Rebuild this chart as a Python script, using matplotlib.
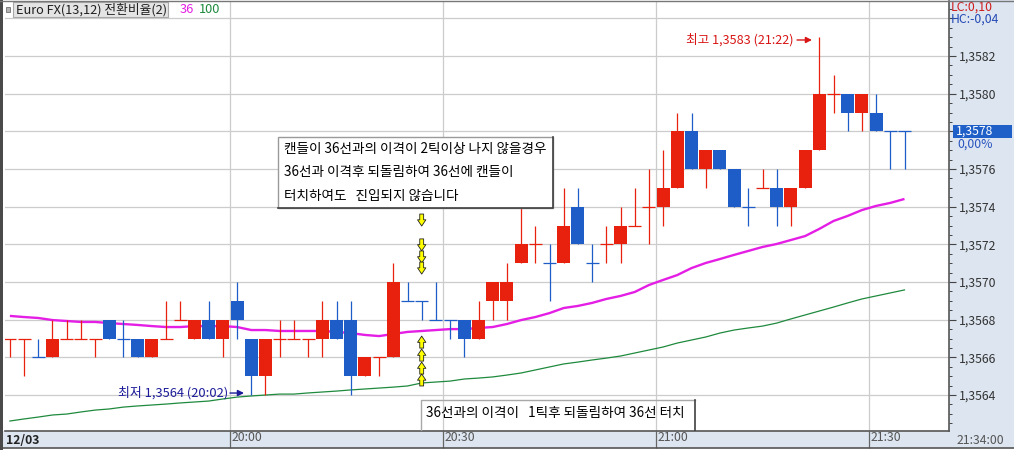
import matplotlib
matplotlib.use("Agg")
import matplotlib.pyplot as plt
import numpy as np
import matplotlib.transforms as mtransforms
from matplotlib.patches import Rectangle
from matplotlib.lines import Line2D
from matplotlib.ticker import MultipleLocator, FuncFormatter

plt.rcParams['font.family'] = ['Noto Sans CJK KR', 'DejaVu Sans']

# ---------------- data ----------------
title = "Euro FX(13,12) 전환비율(2)"
ma_labels = ["36", "100"]
date_label = "12/03"
first_bar = "19:28"
bar_minutes = 2

opens = [1.3567, 1.3567, 1.3566, 1.3566, 1.3567, 1.3567, 1.3567, 1.3568, 1.3567, 1.3567,
         1.3566, 1.3567, 1.3568, 1.3567, 1.3568, 1.3567, 1.3569, 1.3567, 1.3565, 1.3567,
         1.3567, 1.3567, 1.3567, 1.3568, 1.3568, 1.3565, 1.3566, 1.3566, 1.3569, 1.3569,
         1.3568, 1.3568, 1.3568, 1.3567, 1.3569, 1.3569, 1.3571, 1.3572, 1.3571, 1.3571,
         1.3574, 1.3571, 1.3572, 1.3572, 1.3573, 1.3574, 1.3574, 1.3575, 1.3578, 1.3576,
         1.3577, 1.3576, 1.3574, 1.3575, 1.3575, 1.3574, 1.3575, 1.3577, 1.3580, 1.3580,
         1.3579, 1.3579, 1.3578, 1.3578]
highs = [1.3567, 1.3567, 1.3567, 1.3568, 1.3568, 1.3568, 1.3567, 1.3568, 1.3568, 1.3567,
         1.3567, 1.3569, 1.3569, 1.3568, 1.3569, 1.3568, 1.3570, 1.3567, 1.3567, 1.3568,
         1.3568, 1.3567, 1.3569, 1.3569, 1.3569, 1.3566, 1.3566, 1.3571, 1.3570, 1.3569,
         1.3570, 1.3568, 1.3568, 1.3569, 1.3570, 1.3571, 1.3574, 1.3573, 1.3572, 1.3575,
         1.3575, 1.3572, 1.3573, 1.3574, 1.3575, 1.3576, 1.3577, 1.3579, 1.3579, 1.3577,
         1.3577, 1.3576, 1.3575, 1.3576, 1.3576, 1.3575, 1.3577, 1.3583, 1.3581, 1.3580,
         1.3580, 1.3580, 1.3578, 1.3578]
lows = [1.3566, 1.3565, 1.3566, 1.3566, 1.3567, 1.3567, 1.3566, 1.3567, 1.3566, 1.3566,
        1.3566, 1.3567, 1.3568, 1.3567, 1.3567, 1.3566, 1.3567, 1.3564, 1.3564, 1.3566,
        1.3567, 1.3566, 1.3566, 1.3567, 1.3564, 1.3565, 1.3565, 1.3566, 1.3569, 1.3568,
        1.3568, 1.3567, 1.3566, 1.3567, 1.3568, 1.3568, 1.3571, 1.3571, 1.3569, 1.3571,
        1.3572, 1.3570, 1.3571, 1.3571, 1.3573, 1.3572, 1.3573, 1.3575, 1.3576, 1.3575,
        1.3576, 1.3574, 1.3573, 1.3575, 1.3573, 1.3573, 1.3575, 1.3577, 1.3579, 1.3578,
        1.3578, 1.3578, 1.3576, 1.3576]
closes = [1.3567, 1.3567, 1.3566, 1.3567, 1.3567, 1.3567, 1.3567, 1.3567, 1.3567, 1.3566,
          1.3567, 1.3567, 1.3568, 1.3568, 1.3567, 1.3568, 1.3568, 1.3565, 1.3567, 1.3567,
          1.3567, 1.3567, 1.3568, 1.3567, 1.3565, 1.3566, 1.3566, 1.3570, 1.3569, 1.3569,
          1.3568, 1.3568, 1.3567, 1.3568, 1.3570, 1.3570, 1.3572, 1.3572, 1.3571, 1.3573,
          1.3572, 1.3571, 1.3572, 1.3573, 1.3573, 1.3574, 1.3575, 1.3578, 1.3576, 1.3577,
          1.3576, 1.3574, 1.3574, 1.3575, 1.3574, 1.3575, 1.3577, 1.3580, 1.3580, 1.3579,
          1.3580, 1.3578, 1.3578, 1.3578]
# R = rising (red), B = falling (blue)
directions = "RRBRRRRBBBRRRRBRBBRRRRRBBRRRBBBBBRRRRRBRBBRRRRRRBRBBBRBRRRRBRBBB"

ma36 = [1.356820, 1.356814, 1.356809, 1.356798, 1.356793, 1.356788, 1.356788, 1.356782,
        1.356777, 1.356772, 1.356766, 1.356761, 1.356761, 1.356766, 1.356766, 1.356766,
        1.356761, 1.356745, 1.356745, 1.356740, 1.356740, 1.356740, 1.356740, 1.356735,
        1.356729, 1.356719, 1.356713, 1.356724, 1.356735, 1.356740, 1.356745, 1.356750,
        1.356750, 1.356756, 1.356761, 1.356777, 1.356798, 1.356814, 1.356835, 1.356862,
        1.356873, 1.356889, 1.356910, 1.356926, 1.356947, 1.356984, 1.357011, 1.357037,
        1.357074, 1.357101, 1.357122, 1.357144, 1.357165, 1.357186, 1.357202, 1.357223,
        1.357244, 1.357282, 1.357324, 1.357351, 1.357382, 1.357404, 1.357420, 1.357441]
ma100 = [1.356262, 1.356273, 1.356283, 1.356294, 1.356299, 1.356310, 1.356320, 1.356326,
         1.356336, 1.356342, 1.356347, 1.356352, 1.356358, 1.356363, 1.356368, 1.356379,
         1.356389, 1.356395, 1.356400, 1.356405, 1.356405, 1.356411, 1.356416, 1.356421,
         1.356427, 1.356432, 1.356437, 1.356442, 1.356448, 1.356464, 1.356469, 1.356474,
         1.356485, 1.356490, 1.356496, 1.356506, 1.356517, 1.356533, 1.356549, 1.356565,
         1.356575, 1.356586, 1.356596, 1.356607, 1.356623, 1.356639, 1.356655, 1.356676,
         1.356692, 1.356708, 1.356729, 1.356745, 1.356756, 1.356766, 1.356782, 1.356804,
         1.356825, 1.356846, 1.356867, 1.356889, 1.356910, 1.356926, 1.356942, 1.356958]

x_ticks = ["20:00", "20:30", "21:00", "21:30"]

note_top = ["캔들이 36선과의 이격이 2틱이상 나지 않을경우",
            "36선과 이격후 되돌림하여 36선에 캔들이",
            "터치하여도   진입되지 않습니다"]
note_bottom = "36선과의 이격이   1틱후 되돌림하여 36선 터치"
marker_bar = 29
down_marks = [1.357329, 1.357197, 1.357133, 1.357074]
up_marks = [1.356681, 1.356612, 1.356543, 1.356480]

# ---------------- helpers ----------------
def to_min(s):
    hh, mm = s.split(":")
    return int(hh) * 60 + int(mm)

def fmt_time(m):
    m = int(round(m))
    return f"{m // 60}:{m % 60:02d}"

def fmt_price(v):
    return f"{v:.4f}".replace(".", ",")

o = np.array(opens); h = np.array(highs); l = np.array(lows); c = np.array(closes)
n = len(o)
start = to_min(first_bar)
t = start + bar_minutes * np.arange(n) + bar_minutes / 2.0
RED = "#e8210f"
BLUE = "#1e5cc8"
cols = np.array([RED if d == "R" else BLUE for d in directions])

W, H = 1014, 450
def fx(px): return px / W
def fy(py): return 1 - py / H

fig = plt.figure(figsize=(W / 100, H / 100), dpi=100)
fig.patch.set_facecolor("white")

# backgrounds (right panel and bottom strip)
fig.add_artist(Rectangle((fx(949), fy(448)), 1 - fx(949), fy(0) - fy(448),
                         transform=fig.transFigure, facecolor="#dce5f0", edgecolor="none", zorder=-2))
fig.add_artist(Rectangle((0, fy(448)), 1, fy(431) - fy(448),
                         transform=fig.transFigure, facecolor="#dce5f0", edgecolor="none", zorder=-2))

ax = fig.add_axes([fx(5), fy(431), fx(949) - fx(5), fy(1) - fy(431)])
ax.set_facecolor("white")

x0 = to_min(x_ticks[0]) - 225 / 7.1
x1 = to_min(x_ticks[0]) + 719 / 7.1
ax.set_xlim(x0, x1)
ax.set_ylim(1.356209, 1.358492)

# grid
ax.yaxis.set_major_locator(MultipleLocator(0.0002))
ax.yaxis.set_minor_locator(MultipleLocator(0.00005))
ax.set_xticks([to_min(s) for s in x_ticks])
ax.set_xticklabels(x_ticks)
ax.grid(True, which="major", color="#cccccc", lw=0.9, zorder=0)
ax.set_axisbelow(True)

# moving averages (under candles)
ax.plot(t, ma36, color="#e41ee4", lw=1.7, zorder=2, solid_capstyle="butt")
ax.plot(t, ma100, color="#1f8a3e", lw=0.9, zorder=2)

# candles
bw = 1.85
body_h = np.abs(c - o)
has_body = body_h > 1e-9
ax.vlines(t, l, h, colors=cols, lw=0.9, zorder=3)
ax.bar(t[has_body], body_h[has_body], bottom=np.minimum(o, c)[has_body], width=bw,
       color=cols[has_body], linewidth=0, zorder=4)
ax.hlines(o[~has_body], t[~has_body] - bw / 2, t[~has_body] + bw / 2,
          colors=cols[~has_body], lw=0.9, zorder=4)

# high / low annotations
i_lo = int(np.argmin(l)); i_hi = int(np.argmax(h))
lo_v = l[i_lo]; hi_v = h[i_hi]
lo_t = fmt_time(start + bar_minutes * i_lo); hi_t = fmt_time(start + bar_minutes * i_hi)
NAVY = "#1c1c9a"
HRED = "#d81616"
ly = lo_v + 0.0000106
ax.annotate("", xy=(t[i_lo] - 1.03, ly), xytext=(t[i_lo] - 3.0, ly),
            arrowprops=dict(arrowstyle="-|>", color=NAVY, lw=1.0, mutation_scale=9,
                            shrinkA=0, shrinkB=0), zorder=6)
ax.text(t[i_lo] - 3.3, ly, f"최저 {fmt_price(lo_v)} ({lo_t})", ha="right", va="center",
        color=NAVY, fontsize=9.3, zorder=6)
hy = hi_v - 0.000015
ax.annotate("", xy=(t[i_hi] - 1.03, hy), xytext=(t[i_hi] - 3.14, hy),
            arrowprops=dict(arrowstyle="-|>", color=HRED, lw=1.0, mutation_scale=9,
                            shrinkA=0, shrinkB=0), zorder=6)
ax.text(t[i_hi] - 3.7, hy, f"최고 {fmt_price(hi_v)} ({hi_t})", ha="right", va="center",
        color=HRED, fontsize=9.1, zorder=6)

# yellow arrows
half = 0.0000319
arrow_kw = dict(arrowstyle="simple,head_length=0.45,head_width=0.6,tail_width=0.28",
                fc="#ffff00", ec="#202020", lw=0.6, mutation_scale=10, shrinkA=0, shrinkB=0)
for p in down_marks:
    ax.annotate("", xy=(t[marker_bar], p - half), xytext=(t[marker_bar], p + half),
                arrowprops=arrow_kw, zorder=7)
for p in up_marks:
    ax.annotate("", xy=(t[marker_bar], p + half), xytext=(t[marker_bar], p - half),
                arrowprops=arrow_kw, zorder=7)

# note boxes
def ax_x(px): return (px - 5) / 944
def ax_y(py): return (431 - py) / 430

bx0, bx1, by0, by1 = ax_x(278), ax_x(553), ax_y(208), ax_y(137)
ax.add_patch(Rectangle((bx0, by0), bx1 - bx0, by1 - by0, transform=ax.transAxes,
                       facecolor="white", edgecolor="#9a9a9a", lw=1.0, zorder=8))
ax.add_line(Line2D([bx1, bx1, bx0], [by1, by0, by0], transform=ax.transAxes,
                   color="#404040", lw=1.2, zorder=9))
for txt, py in zip(note_top, [149, 172, 196]):
    ax.text(ax_x(284), ax_y(py), txt, transform=ax.transAxes, ha="left", va="center",
            fontsize=9.8, color="black", zorder=10)

cx0, cx1, cy1 = ax_x(421), ax_x(695), ax_y(400)
ax.add_line(Line2D([cx0, cx0, cx1], [0, cy1, cy1], transform=ax.transAxes,
                   color="#a8a8a8", lw=1.0, zorder=8))
ax.add_line(Line2D([cx1, cx1], [0, cy1], transform=ax.transAxes,
                   color="#404040", lw=1.2, zorder=8))
ax.text(ax_x(426), ax_y(413), note_bottom, transform=ax.transAxes, ha="left", va="center",
        fontsize=9.8, color="black", zorder=8)

# axes styling
for s in ["top", "left"]:
    ax.spines[s].set_visible(False)
ax.spines["bottom"].set_color("#555555")
ax.spines["right"].set_color("#555555")
ax.spines["bottom"].set_linewidth(1.2)
ax.spines["right"].set_linewidth(1.2)
ax.yaxis.tick_right()
last = c[-1]
top_hidden = 1.3584
ax.yaxis.set_major_formatter(FuncFormatter(
    lambda v, pos: "" if (abs(v - top_hidden) < 1e-7 or abs(v - last) < 1e-7) else fmt_price(v)))
ax.tick_params(axis="y", which="major", direction="out", length=5, width=0.8,
               color="#444444", labelsize=8.8, labelcolor="#333333", pad=2)
ax.tick_params(axis="y", which="minor", direction="out", length=2.5, width=0.7, color="#444444")
ax.tick_params(axis="x", which="major", direction="out", length=12.3, width=0.9,
               color="#666666", labelsize=8.8, labelcolor="#555555", pad=-12.5)
for lab in ax.get_xticklabels():
    lab.set_horizontalalignment("left")
    lab.set_transform(lab.get_transform() + mtransforms.ScaledTranslation(1.5 / 100, 0, fig.dpi_scale_trans))

# current price box
blend = mtransforms.blended_transform_factory(ax.transAxes, ax.transData)
pxd = (1.358492 - 1.356209) / 430
ax.add_patch(Rectangle((ax_x(953), last - 6.5 * pxd), ax_x(1012) - ax_x(953), 13 * pxd,
                       transform=blend, facecolor="#1f5fc8", edgecolor="none",
                       clip_on=False, zorder=10))
ax.text(ax_x(956), last, fmt_price(last), transform=blend, ha="left", va="center",
        color="white", fontsize=8.8, clip_on=False, zorder=11)
chg = (c[-1] - c[-2]) / c[-2] * 100
ax.text(ax_x(957), last - 12.5 * pxd, f"{chg:.2f}%".replace(".", ","), transform=blend,
        ha="left", va="center", color="#2a55c0", fontsize=8.8, clip_on=False, zorder=11)

lc = (last - lo_v) / lo_v * 100
hc = (last - hi_v) / hi_v * 100
fig.text(fx(951), fy(7), f"LC:{lc:.2f}".replace(".", ","), ha="left", va="center",
         color="#d01c1c", fontsize=8.8)
fig.text(fx(951), fy(19), f"HC:{hc:.2f}".replace(".", ","), ha="left", va="center",
         color="#2448b4", fontsize=8.8)

# bottom strip labels
fig.text(fx(6), fy(440), date_label, ha="left", va="center", fontsize=8.8,
         fontweight="bold", color="#222222")
fig.text(fx(957), fy(440), fmt_time(start + bar_minutes * (n - 1)) + ":00", ha="left",
         va="center", fontsize=8.8, color="#555555")
fig.add_artist(Line2D([fx(0), fx(1014)], [fy(448), fy(448)], transform=fig.transFigure,
                      color="#555555", lw=1.2))

# legend / title box
fig.add_artist(Rectangle((fx(13), fy(17)), fx(168) - fx(13), fy(2) - fy(17),
                         transform=fig.transFigure, facecolor="#e4e4e4", edgecolor="#a8a8a8",
                         lw=0.8, zorder=3))
fig.add_artist(Rectangle((fx(6), fy(12)), fx(4), fy(7) - fy(12),
                         transform=fig.transFigure, facecolor="#b4b4b4", edgecolor="#707070",
                         lw=0.6, zorder=3))
fig.text(fx(15.5), fy(9.5), title, ha="left", va="center", fontsize=9.2, color="#202020", zorder=4)
fig.text(fx(180), fy(9.5), ma_labels[0], ha="left", va="center", fontsize=9.2, color="#e41ee4")
fig.text(fx(199), fy(9.5), ma_labels[1], ha="left", va="center", fontsize=9.2, color="#1f8a3e")

# frame borders
fig.add_artist(Rectangle((0, 0), fx(3), 1, transform=fig.transFigure,
                         facecolor="#4a4a4a", edgecolor="none", zorder=5))
fig.add_artist(Line2D([0, 1], [fy(0.5), fy(0.5)], transform=fig.transFigure,
                      color="#777777", lw=1.0, zorder=5))

fig.savefig("out.png", dpi=100)
